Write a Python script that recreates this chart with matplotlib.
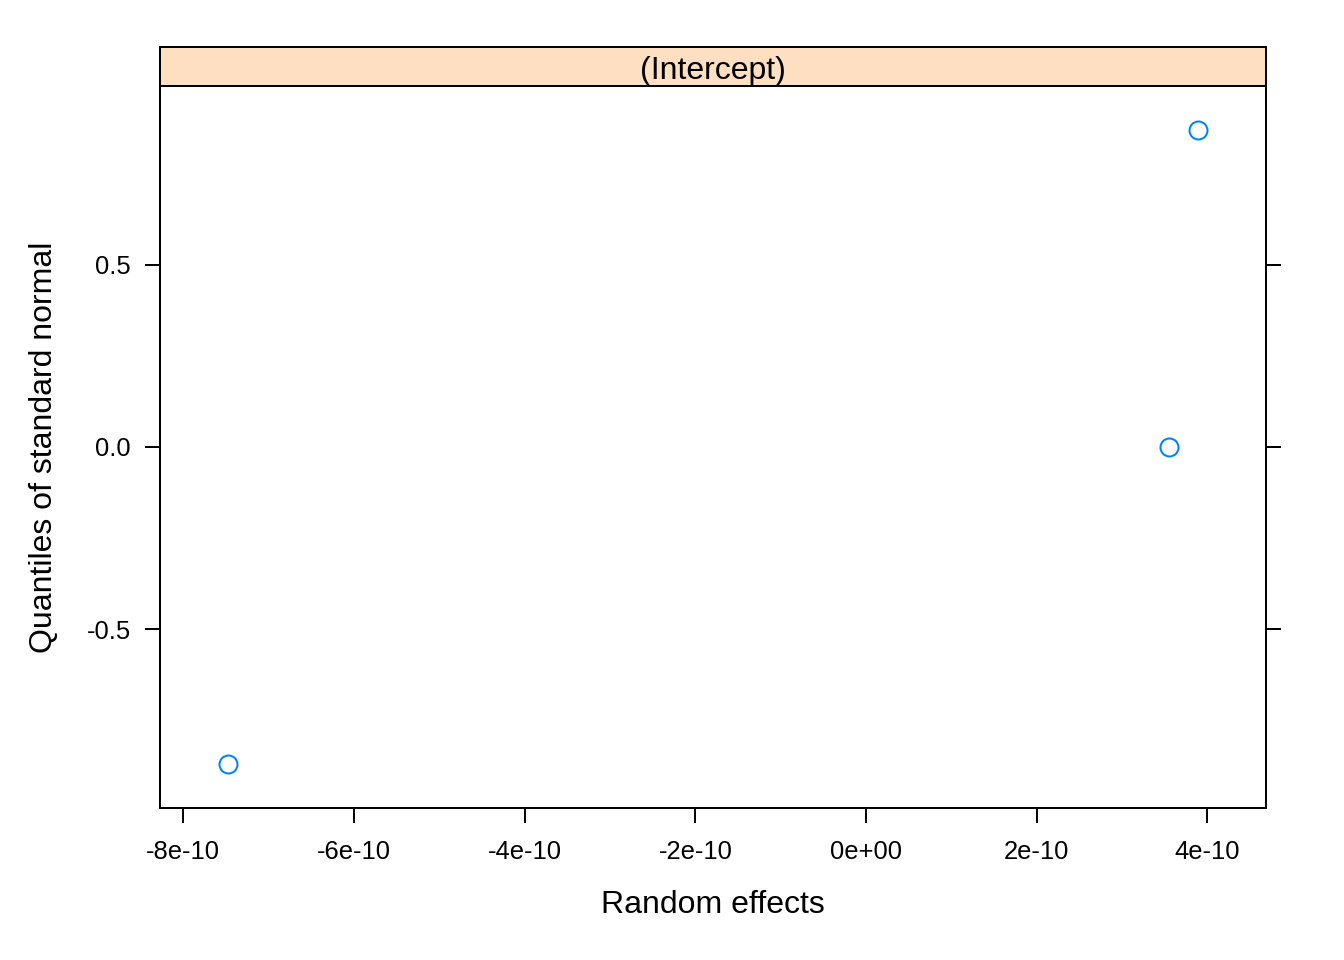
import matplotlib
matplotlib.use('Agg')
import matplotlib.pyplot as plt
from matplotlib.patches import Rectangle

plt.rcParams['font.family'] = ['Liberation Sans', 'DejaVu Sans']

# random effect estimates vs normal quantiles
effects = [-7.476e-10, 3.551e-10, 3.890e-10]
quantiles = [-0.8694, 0.0, 0.8694]
x_ticks = [-8e-10, -6e-10, -4e-10, -2e-10, 0.0, 2e-10, 4e-10]
x_labels = ['-8e-10', '-6e-10', '-4e-10', '-2e-10', '0e+00', '2e-10', '4e-10']
y_ticks = [-0.5, 0.0, 0.5]
y_labels = ['-0.5', '0.0', '0.5']
strip_label = '(Intercept)'

W, H = 1344, 960
fig = plt.figure(figsize=(W / 144, H / 144), dpi=144)
left, right = 160 / W, 1266 / W
bottom, top = 1 - 808 / H, 1 - 86 / H
ax = fig.add_axes([left, bottom, right - left, top - bottom])

ax.plot(effects, quantiles, linestyle='none', marker='o', markersize=9,
        markerfacecolor='none', markeredgecolor='#0080ff', markeredgewidth=1.0)

# lattice-style 7% padding
xr = max(effects) - min(effects)
yr = max(quantiles) - min(quantiles)
ax.set_xlim(min(effects) - 0.07 * xr, max(effects) + 0.07 * xr)
ax.set_ylim(min(quantiles) - 0.07 * yr, max(quantiles) + 0.07 * yr)

ax.set_xticks(x_ticks)
ax.set_xticklabels(x_labels)
ax.set_yticks(y_ticks)
ax.set_yticklabels(y_labels)
ax.tick_params(direction='out', length=7.5, width=1.0, labelsize=12.8, pad=7,
               left=True, right=True, bottom=True, top=False,
               labelleft=True, labelright=False)
ax.tick_params(axis='x', pad=8.5)
for s in ax.spines.values():
    s.set_linewidth(1.0)

ax.set_xlabel('Random effects', fontsize=16, labelpad=13)
ax.set_ylabel('Quantiles of standard normal', fontsize=16, labelpad=14)

# strip on top of the panel
sb = 1 - 86 / H
st = 1 - 47 / H
fig.patches.append(Rectangle((left, sb), right - left, st - sb, transform=fig.transFigure,
                             facecolor='#ffdfc2', edgecolor='black', linewidth=1.0))
fig.text((left + right) / 2, (sb + st) / 2 - 4 / H, strip_label, ha='center', va='center',
         fontsize=16)

fig.savefig('out.png', dpi=144)
